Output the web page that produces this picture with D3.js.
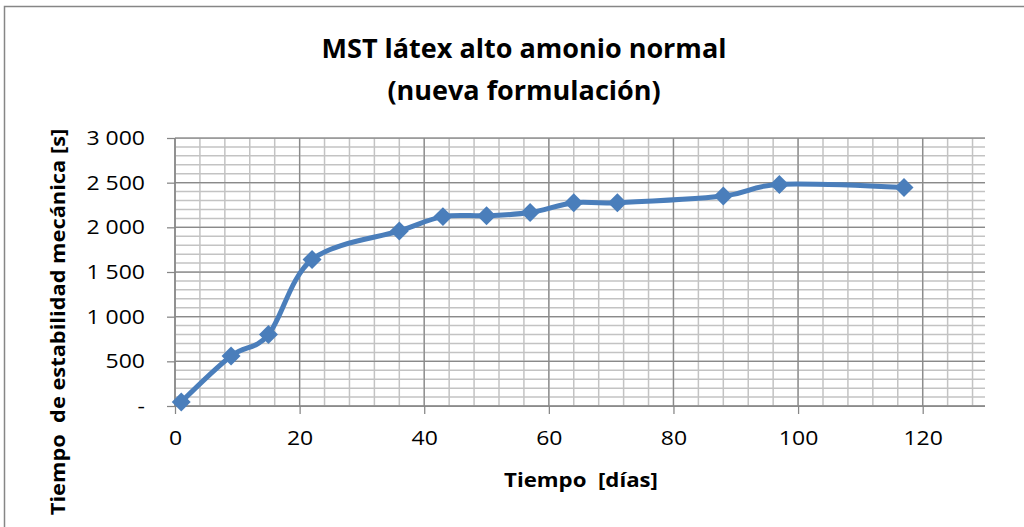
<!DOCTYPE html>
<html>
<head>
<meta charset="utf-8">
<script src="https://cdn.jsdelivr.net/npm/d3@7"></script>
<style>
  body { margin: 0; background: #fff; }
  text { font-family: "Open Sans", sans-serif; fill: #000; white-space: pre; }
</style>
</head>
<body>
<div id="chart"></div>
<script>
// data
var dias = [1, 9, 15, 22, 36, 43, 50, 57, 64, 71, 88, 97, 117];
var mst = [45, 560, 800, 1640, 1960, 2120, 2130, 2165, 2275, 2275, 2350, 2480, 2445];
var xTicks = [0, 20, 40, 60, 80, 100, 120];
var yTicks = [0, 500, 1000, 1500, 2000, 2500, 3000];
var titleLines = ["MST látex alto amonio normal", "(nueva formulación)"];
var xTitle = "Tiempo  [días]";
var yTitle = "Tiempo  de estabilidad mecánica [s]";

var w = 1024, h = 527;
var blue = "#4a7ebb";

var svg = d3.select("#chart").append("svg")
    .attr("width", w)
    .attr("height", h);

svg.append("rect")
    .attr("x", 4.5).attr("y", 6.5)
    .attr("width", 1100).attr("height", 700)
    .attr("fill", "#fff")
    .attr("stroke", "#868686")
    .attr("stroke-width", 1.5);

var x = d3.scaleLinear().domain([0, 130]).range([175, 985]);
var y = d3.scaleLinear().domain([0, 3000]).range([406, 138]);

//grid - minor first
var g = svg.append("g");
g.selectAll(".vmin").data(d3.range(0, 130, 4))
    .enter().append("line")
    .attr("x1", function (d) { return x(d); })
    .attr("x2", function (d) { return x(d); })
    .attr("y1", y(0)).attr("y2", y(3000))
    .attr("stroke", "#c3c3c3").attr("stroke-width", 1.5);
g.selectAll(".hmin").data(d3.range(0, 3001, 100))
    .enter().append("line")
    .attr("x1", x(0)).attr("x2", x(130))
    .attr("y1", function (d) { return y(d); })
    .attr("y2", function (d) { return y(d); })
    .attr("stroke", "#c3c3c3").attr("stroke-width", 1.5);
g.selectAll(".vmaj").data(xTicks)
    .enter().append("line")
    .attr("x1", function (d) { return x(d); })
    .attr("x2", function (d) { return x(d); })
    .attr("y1", y(0)).attr("y2", y(3000))
    .attr("stroke", "#8a8a8a").attr("stroke-width", 1.25);
g.selectAll(".hmaj").data(yTicks)
    .enter().append("line")
    .attr("x1", x(0)).attr("x2", x(130))
    .attr("y1", function (d) { return y(d); })
    .attr("y2", function (d) { return y(d); })
    .attr("stroke", "#8a8a8a").attr("stroke-width", 1.25);

var loc = d3.formatLocale({decimal: ",", thousands: " ", grouping: [3], currency: ["", ""]});
var fmt = loc.format(",");

// tick labels are a bit wider than Open Sans, stretch them
var sxTick = 1.15;

var yAxis = svg.append("g")
    .attr("transform", "translate(" + x(0) + ",0)")
    .call(d3.axisLeft(y).tickValues(yTicks).tickSize(8)
        .tickFormat(function (d) { return d === 0 ? "-" : fmt(d); }));
yAxis.selectAll("text")
    .attr("x", 0)
    .attr("transform", "translate(-30,0) scale(" + sxTick + ",1)")
    .attr("font-size", "20px");

var xAxis = svg.append("g")
    .attr("transform", "translate(0," + y(0) + ")")
    .call(d3.axisBottom(x).tickValues(xTicks).tickSize(8));
xAxis.selectAll("text")
    .attr("y", 0)
    .attr("transform", "translate(0,25) scale(" + sxTick + ",1)")
    .attr("font-size", "20px");

yAxis.select(".domain").remove();
xAxis.select(".domain").remove();
svg.selectAll(".tick line").attr("stroke", "#868686").attr("stroke-width", 1.25);
svg.selectAll(".tick text").attr("font-family", "Open Sans").attr("fill", "#000");

svg.append("line")
    .attr("x1", x(0)).attr("x2", x(0))
    .attr("y1", y(0)).attr("y2", y(3000))
    .attr("stroke", "#868686").attr("stroke-width", 1.25);
svg.append("line")
    .attr("x1", x(0)).attr("x2", x(130))
    .attr("y1", y(0)).attr("y2", y(0))
    .attr("stroke", "#868686").attr("stroke-width", 1.25);

// series
var pts = dias.map(function (d, i) { return [d, mst[i]]; });
var line = d3.line()
    .x(function (d) { return x(d[0]); })
    .y(function (d) { return y(d[1]); })
    .curve(d3.curveCardinal.tension(0));
svg.append("path")
    .datum(pts)
    .attr("d", line)
    .attr("fill", "none")
    .attr("stroke", blue)
    .attr("stroke-width", 5)
    .attr("stroke-linejoin", "round");

svg.selectAll(".mk").data(pts)
    .enter().append("path")
    .attr("d", d3.symbol().type(d3.symbolSquare).size(180))
    .attr("transform", function (d) {
        return "translate(" + x(d[0]) + "," + y(d[1]) + ") rotate(45)";
    })
    .attr("fill", blue);

// titles
svg.selectAll(".ttl").data(titleLines)
    .enter().append("text")
    .attr("text-anchor", "middle")
    .attr("font-weight", "bold")
    .attr("font-size", "27px")
    .attr("transform", function (d, i) {
        return "translate(524," + (58 + i * 42) + ")";
    })
    .text(function (d) { return d; });

svg.append("text")
    .attr("text-anchor", "middle")
    .attr("font-weight", "bold")
    .attr("font-size", "19.5px")
    .attr("transform", "translate(581,487) scale(1.14,1)")
    .text(xTitle);

svg.append("text")
    .attr("text-anchor", "middle")
    .attr("font-weight", "bold")
    .attr("font-size", "19.5px")
    .attr("transform", "translate(65,322) rotate(-90) scale(1.12,1)")
    .text(yTitle);
</script>
</body>
</html>
